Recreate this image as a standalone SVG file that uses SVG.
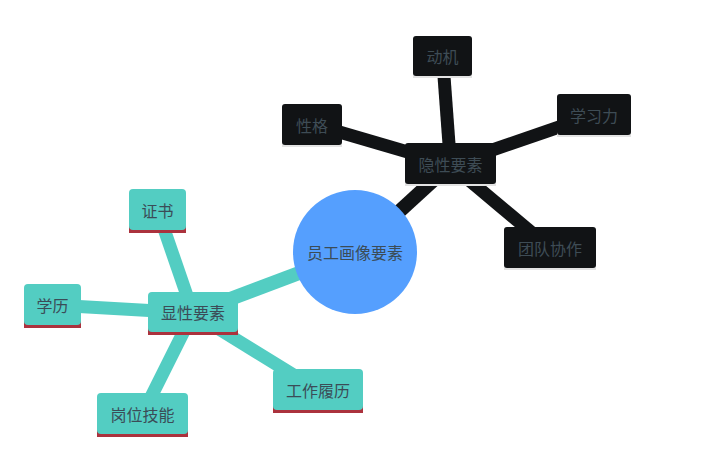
<svg xmlns="http://www.w3.org/2000/svg" width="704" height="470" viewBox="0 0 704 470">
<style>
.t{font-family:"Noto Sans CJK SC","Liberation Sans",sans-serif;font-size:16px;text-anchor:middle;dominant-baseline:central}
.tl{fill:#3b4c57}
.td{fill:#3e4c55}
.teal{fill:#53cdc2}
.dark{fill:#111315}
.red{fill:#ab323d}
.gray{fill:#e3e3e3}
.ct{stroke:#53cdc2;stroke-linecap:butt;fill:none}
.cd{stroke:#111315;stroke-linecap:butt;fill:none}
</style>
<rect width="704" height="470" fill="#ffffff"/>
<g id="connectors">
<line class="ct" x1="355" y1="252" x2="193" y2="313" stroke-width="14"/>
<line class="ct" x1="193" y1="313" x2="157.5" y2="210" stroke-width="13"/>
<line class="ct" x1="193" y1="313" x2="52.5" y2="305" stroke-width="13"/>
<line class="ct" x1="193" y1="313" x2="142.5" y2="414" stroke-width="13"/>
<line class="ct" x1="193" y1="313" x2="318" y2="390" stroke-width="13"/>
<line class="cd" x1="355" y1="252" x2="450.5" y2="164.5" stroke-width="14"/>
<line class="cd" x1="450.5" y1="164.5" x2="442.5" y2="56" stroke-width="13"/>
<line class="cd" x1="450.5" y1="164.5" x2="312" y2="124" stroke-width="13"/>
<line class="cd" x1="450.5" y1="164.5" x2="594" y2="115" stroke-width="13"/>
<line class="cd" x1="450.5" y1="164.5" x2="550" y2="248" stroke-width="13"/>
</g>
<g id="root">
<circle cx="355" cy="252" r="62" fill="#559ffe"/>
<text class="t tl" x="355" y="252">员工画像要素</text>
</g>
<g id="explicit">
<rect class="red" x="148" y="320" width="90" height="15"/>
<rect class="teal" x="148" y="292" width="90" height="40" rx="4"/>
<text class="t tl" x="193" y="312">显性要素</text>
</g>
<g id="cert">
<rect class="red" x="129" y="220" width="57" height="13"/>
<rect class="teal" x="129" y="189" width="57" height="41" rx="4"/>
<text class="t tl" x="157.5" y="209.5">证书</text>
</g>
<g id="edu">
<rect class="red" x="24" y="315" width="57" height="13"/>
<rect class="teal" x="24" y="284" width="57" height="41" rx="4"/>
<text class="t tl" x="52.5" y="304.5">学历</text>
</g>
<g id="skill">
<rect class="red" x="97" y="424" width="91" height="13"/>
<rect class="teal" x="97" y="393" width="91" height="41" rx="4"/>
<text class="t tl" x="142.5" y="413.5">岗位技能</text>
</g>
<g id="work">
<rect class="red" x="273" y="400" width="90" height="13"/>
<rect class="teal" x="273" y="369" width="90" height="41" rx="4"/>
<text class="t tl" x="318" y="389.5">工作履历</text>
</g>
<g id="implicit">
<rect class="gray" x="405" y="174" width="91" height="12"/>
<rect class="dark" x="405" y="143" width="91" height="41" rx="3"/>
<text class="t td" x="450.5" y="163.5">隐性要素</text>
</g>
<g id="motive">
<rect class="gray" x="413" y="66" width="59" height="12"/>
<rect class="dark" x="413" y="36" width="59" height="40" rx="3"/>
<text class="t td" x="442.5" y="56">动机</text>
</g>
<g id="character">
<rect class="gray" x="282" y="135" width="60" height="12"/>
<rect class="dark" x="282" y="104" width="60" height="41" rx="3"/>
<text class="t td" x="312" y="124.5">性格</text>
</g>
<g id="learning">
<rect class="gray" x="557" y="125" width="74" height="12"/>
<rect class="dark" x="557" y="94" width="74" height="41" rx="3"/>
<text class="t td" x="594" y="114.5">学习力</text>
</g>
<g id="team">
<rect class="gray" x="504" y="258" width="92" height="12"/>
<rect class="dark" x="504" y="227" width="92" height="41" rx="3"/>
<text class="t td" x="550" y="247.5">团队协作</text>
</g>
</svg>
